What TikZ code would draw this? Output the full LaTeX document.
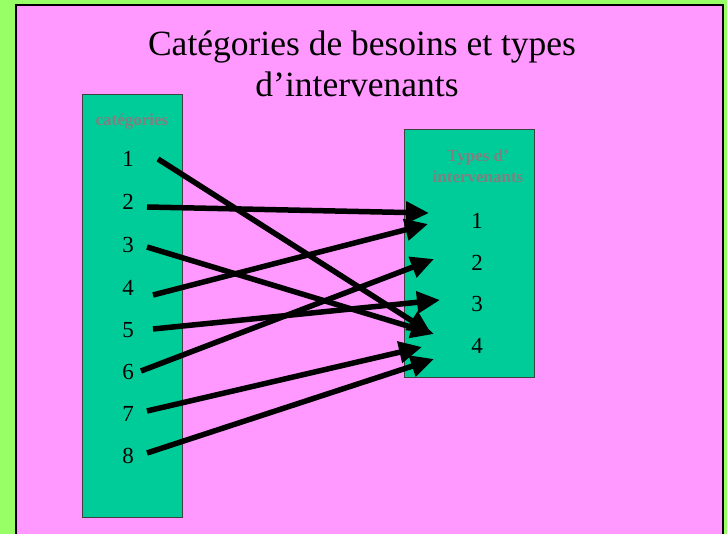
\documentclass[tikz,border=0pt]{standalone}
\usepackage{fontspec}
\setmainfont{Liberation Serif}
\usetikzlibrary{arrows.meta}
\definecolor{bggreen}{HTML}{99FF66}
\definecolor{slidepink}{HTML}{FF99FF}
\definecolor{boxteal}{HTML}{00CC99}
\definecolor{lblgray}{HTML}{808080}
\begin{document}
\begin{tikzpicture}[x=1pt,y=-1pt,
        box/.style={draw=black!75,line width=1pt,fill=boxteal},
        lbl/.style={text=lblgray,font=\fontsize{17}{21}\selectfont\bfseries,anchor=base,inner sep=0pt,align=center},
        num/.style={font=\fontsize{23}{27}\selectfont,anchor=base,inner sep=0pt},
        link/.style={line width=5.5pt,-{Triangle[length=23pt,width=21pt]}}]
            \newcommand{\lnk}[2]{
                \draw[link] (#1) -- (#2)
            }
            \useasboundingbox (0,0) rectangle (727,534);
            \clip (0,0) rectangle (727,534);
            \fill[bggreen] (0,0) rectangle (727,534);
            \draw[line width=2.5pt,fill=slidepink] (16,5) rectangle (723,560);

            % titre
            \node[font=\fontsize{35.5}{42}\selectfont,anchor=base,inner sep=0pt] (title1) at (362,56) {Catégories de besoins et types};
            \node[font=\fontsize{35.5}{42}\selectfont,anchor=base,inner sep=0pt] (title2) at (357,97) {d’intervenants};

            % colonnes
            \draw[box] (82,95) rectangle (182,517);
            \draw[box] (404,130) rectangle (534,377);
            \node[lbl] (cat) at (132,126) {catégories};
            \node[lbl] (typ1) at (478,162) {Types d’};
            \node[lbl] (typ2) at (478,183) {intervenants};

            \foreach \i/\y in {1/167,2/210,3/253,4/295,5/337,6/379,7/421,8/463}
                \node[num] (c\i) at (128,\y) {\i};
            \foreach \i/\y in {1/229,2/270,3/311,4/353}
                \node[num] (t\i) at (477,\y) {\i};

            % extremites des fleches
            \coordinate (s1) at (158,159);
            \coordinate (s2) at (147,207);
            \coordinate (s3) at (147,247);
            \coordinate (s4) at (153,295);
            \coordinate (s5) at (153,329);
            \coordinate (s6) at (141,371);
            \coordinate (s7) at (147,411);
            \coordinate (s8) at (147,453);
            \coordinate (e1) at (431,333);
            \coordinate (e2) at (429,213);
            \coordinate (e3) at (434,334);
            \coordinate (e4) at (428,224);
            \coordinate (e5) at (440,300);
            \coordinate (e6) at (434,259);
            \coordinate (e7) at (422,347);
            \coordinate (e8) at (434,359);

            \lnk{s1}{e1};
            \lnk{s2}{e2};
            \lnk{s3}{e3};
            \lnk{s4}{e4};
            \lnk{s5}{e5};
            \lnk{s6}{e6};
            \lnk{s7}{e7};
            \lnk{s8}{e8};
        \end{tikzpicture}
\end{document}
